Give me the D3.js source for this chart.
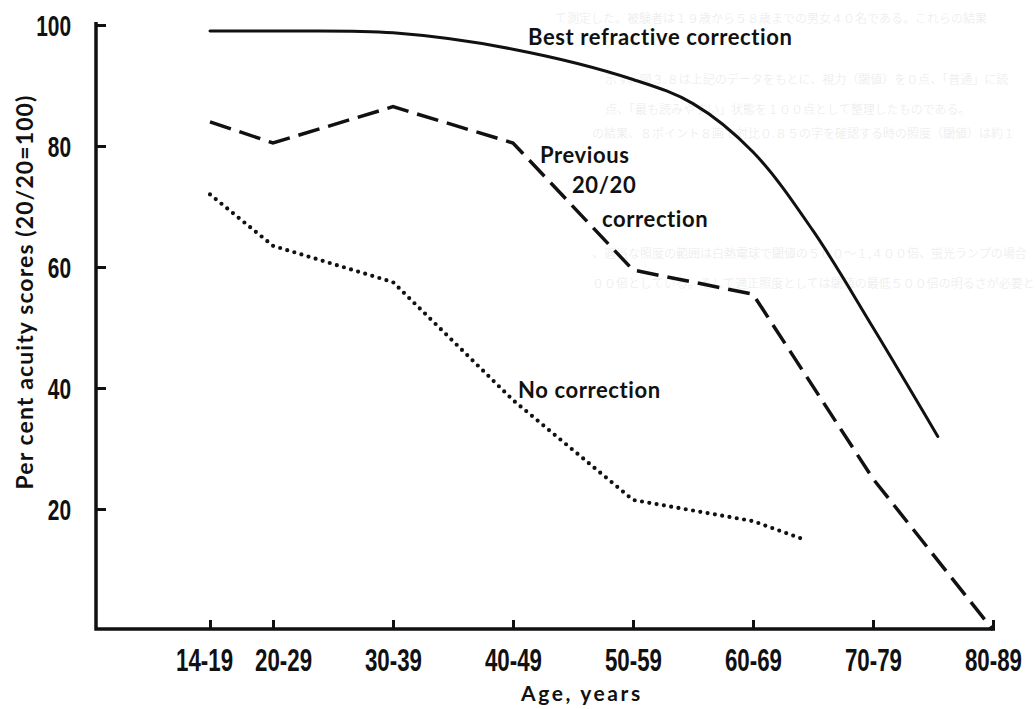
<!DOCTYPE html>
<html>
<head>
<meta charset="utf-8">
<title>Per cent acuity scores by age</title>
<script src="https://d3js.org/d3.v7.min.js"></script>
<style>
  body { margin: 0; background: #fff; }
  .lab { font-family: Lato, "Open Sans", sans-serif; font-weight: 700; fill: #111; }
  .tick text { font-family: "Liberation Sans", Arial, sans-serif; font-weight: 700; fill: #111; }
</style>
</head>
<body>
<script>

// ---- data ----
var ageGroups = ["14-19", "20-29", "30-39", "40-49", "50-59", "60-69", "70-79", "80-89"];
var yTicks = [20, 40, 60, 80, 100];

// position along the age axis (group index, the last point of some curves stops between groups)
var bestAt = [0, 1, 2, 3, 4, 4.5, 5, 5.5, 6, 6.54];
var bestScore = [99, 99, 98.7, 96, 91, 87, 79, 66, 50, 32];

var prevAt = [0, 1, 2, 3, 4, 5, 6, 7];
var prevScore = [84, 80.5, 86.5, 80.5, 59.5, 55.5, 25, 0];

var noneAt = [0, 1, 2, 3, 4, 5, 5.42];
var noneScore = [72, 63.5, 57.5, 38, 21.5, 18, 15];

// faint show-through from the back of the page
var backText = [
    "て測定した。被験者は１９歳から５８歳までの男女４０名である。これらの結果",
    "示す。図３.８は上記のデータをもとに、視力（閾値）を０点、「普通」に読",
    "点、「最も読みやすい」状態を１００点として整理したものである。",
    "の結果、８ポイント８画で対比０.８５の字を確認する時の照度（閾値）は約１",
    "、適当な照度の範囲は白熱電球で閾値の５００～１,４００倍、蛍光ランプの場合",
    "００倍としている。そして適正照度としては閾値の最低５００倍の明るさが必要と"
];

// ---- layout ----
var W = 1035, H = 709;
var axisX = 96, axisY = 629;
var narrow = 0.72;   // the tick font is a condensed face

var svg = d3.select("body").append("svg")
    .attr("width", W)
    .attr("height", H);

svg.append("rect").attr("width", W).attr("height", H).attr("fill", "#fff");

var backPos = [[555, 23], [605, 84], [605, 114], [592, 138], [592, 258], [592, 288]];
svg.append("g").selectAll("text")
    .data(backText)
    .enter().append("text")
    .attr("x", (d, i) => backPos[i][0])
    .attr("y", (d, i) => backPos[i][1])
    .attr("font-family", "'Noto Sans CJK JP', sans-serif")
    .attr("font-weight", 300)
    .attr("font-size", 12)
    .attr("fill", "#eaeaea")
    .text(d => d);

var x = d3.scaleLinear()
    .domain([0, 1, ageGroups.length - 1])
    .range([210, 273, 993]);

var y = d3.scaleLinear()
    .domain([0, 100])
    .range([630, 25]);

// y axis, ticks pointing into the plot
var yAxis = svg.append("g")
    .attr("transform", "translate(" + axisX + ",0)")
    .call(d3.axisLeft(y).tickValues(yTicks).tickSizeInner(-10).tickSizeOuter(0).tickPadding(25));
yAxis.select(".domain").remove();
yAxis.selectAll(".tick line").attr("stroke", "#111").attr("stroke-width", 3);
yAxis.selectAll(".tick text")
    .style("font-size", "29px")
    .attr("dy", "0.36em")
    .attr("x", -25 / narrow)
    .attr("transform", "scale(" + narrow + ",1)");

var xAxis = svg.append("g")
    .attr("transform", "translate(0," + axisY + ")")
    .call(d3.axisBottom(x).tickValues(d3.range(ageGroups.length)).tickFormat(i => ageGroups[i])
        .tickSizeInner(-9).tickSizeOuter(0).tickPadding(20));
xAxis.select(".domain").remove();
xAxis.selectAll(".tick line").attr("stroke", "#111").attr("stroke-width", 3);
// the first two labels sit a little apart in the original
var labelShift = [-6, 10, 0, 0, 0, 0, 0, 0];
xAxis.selectAll(".tick text")
    .style("font-size", "31px")
    .attr("x", i => labelShift[i] / narrow)
    .attr("transform", "scale(" + narrow + ",1)");

// axis lines
svg.append("path")
    .attr("d", "M" + axisX + "," + (y(100) - 3) + "V" + axisY + "H" + (x(ageGroups.length - 1) + 2))
    .attr("fill", "none")
    .attr("stroke", "#111")
    .attr("stroke-width", 3.5);

// ---- curves ----
function pts(at, vals) { return at.map((a, i) => [a, vals[i]]); }

var smooth = d3.line().x(d => x(d[0])).y(d => y(d[1])).curve(d3.curveCatmullRom.alpha(0.5));
var straight = d3.line().x(d => x(d[0])).y(d => y(d[1]));

svg.append("path")
    .attr("d", smooth(pts(bestAt, bestScore)))
    .attr("fill", "none")
    .attr("stroke", "#111")
    .attr("stroke-width", 3)
    .attr("stroke-linecap", "round");

svg.append("path")
    .attr("d", straight(pts(prevAt, prevScore)))
    .attr("fill", "none")
    .attr("stroke", "#111")
    .attr("stroke-width", 3.5)
    .attr("stroke-dasharray", "22,9");

svg.append("path")
    .attr("d", straight(pts(noneAt, noneScore)))
    .attr("fill", "none")
    .attr("stroke", "#111")
    .attr("stroke-width", 4.2)
    .attr("stroke-linecap", "round")
    .attr("stroke-dasharray", "0,7.4");

// ---- labels ----
function label(txt, lx, ly, size, ls) {
    svg.append("text").attr("class", "lab")
        .attr("x", lx).attr("y", ly)
        .attr("font-size", size)
        .attr("letter-spacing", ls)
        .text(txt);
}
label("Best refractive correction", 528, 45, 22, 0.6);
label("Previous", 540, 163, 22, 0.6);
label("20/20", 572, 193, 22, 0.6);
label("correction", 602, 227, 22, 0.6);
label("No correction", 518, 398, 22, 0.6);
label("Age, years", 521, 701, 21, 2.6);

svg.append("text").attr("class", "lab")
    .attr("transform", "translate(33,292) rotate(-90)")
    .attr("text-anchor", "middle")
    .attr("font-size", 23)
    .attr("letter-spacing", 1.1)
    .text("Per cent acuity scores (20/20=100)");

</script>
</body>
</html>
